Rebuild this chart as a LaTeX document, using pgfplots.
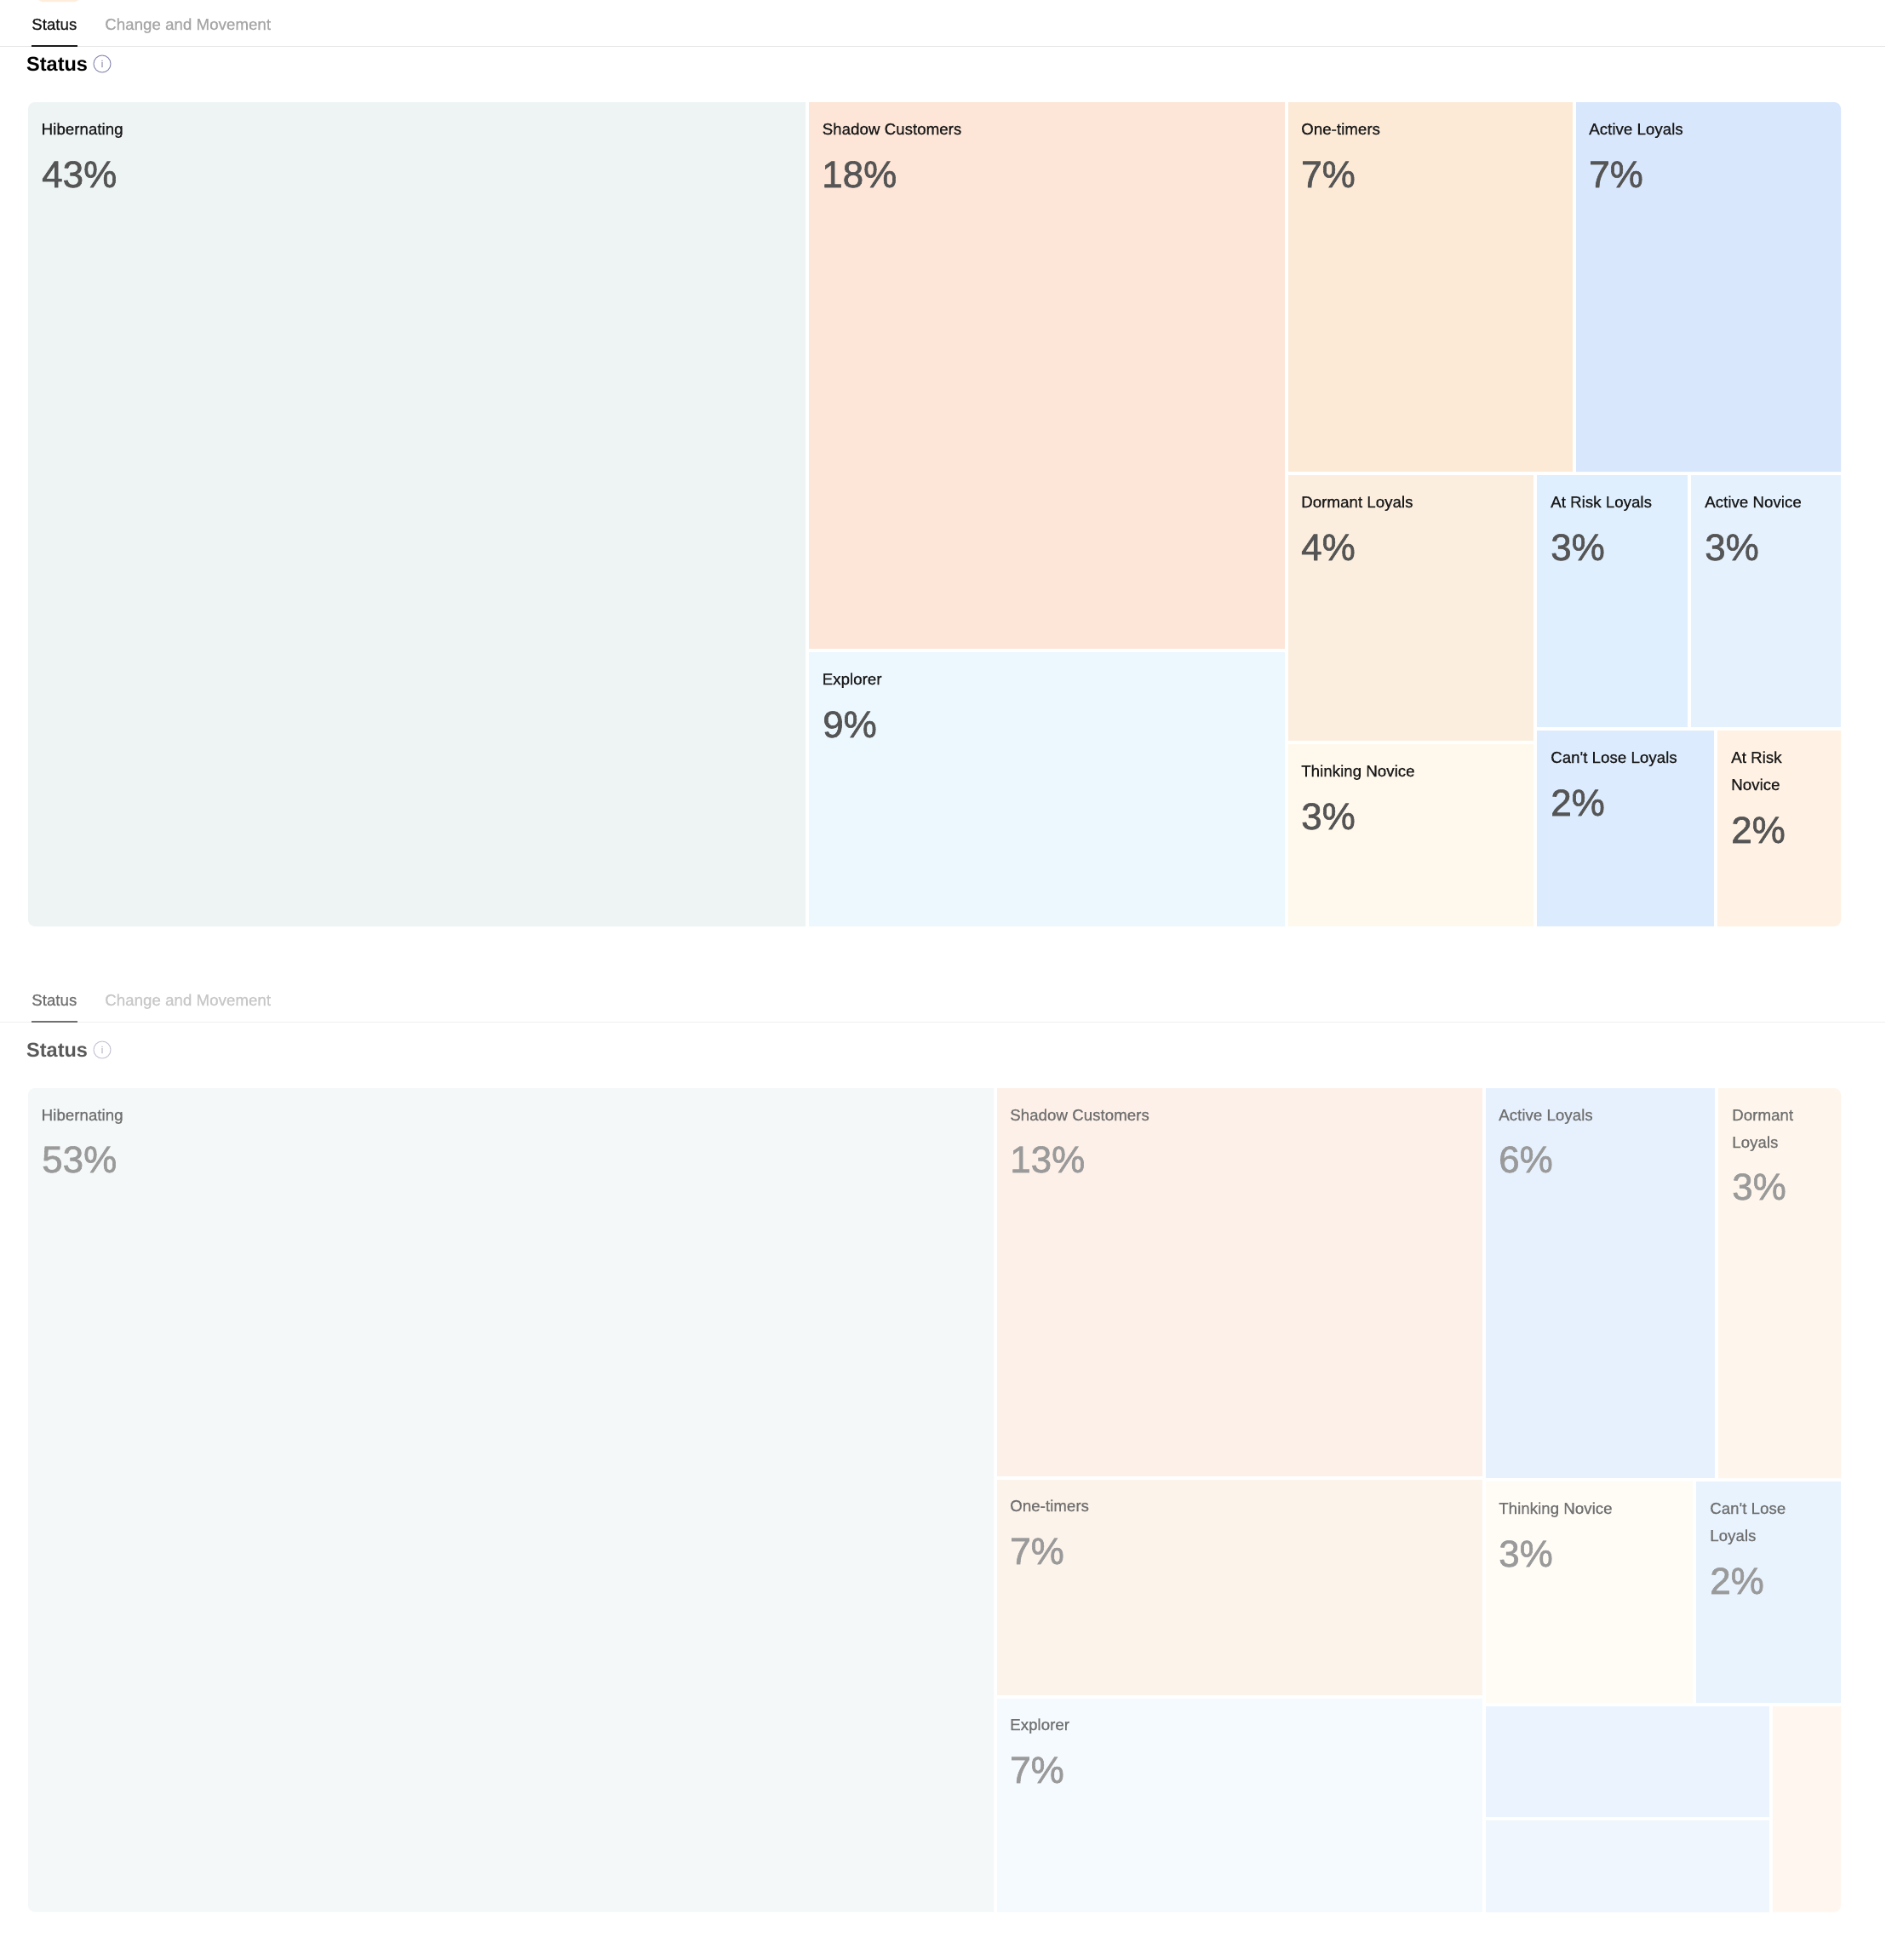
\documentclass[border=0pt]{standalone}
\usepackage{fontspec}
\usepackage{pgfplots}
\pgfplotsset{compat=1.18}
\newfontfamily\lab[FakeBold=0.6]{Liberation Sans}
\newfontfamily\pct[FakeBold=1.3]{Liberation Sans}
\newfontfamily\ttl{Liberation Sans Bold}
\definecolor{aHib}{HTML}{EEF4F4}\definecolor{aSha}{HTML}{FDE5D7}\definecolor{aOne}{HTML}{FCEAD7}
\definecolor{aAct}{HTML}{D9E7FD}\definecolor{aDor}{HTML}{FBEEDE}\definecolor{aRis}{HTML}{DFEFFE}
\definecolor{aNov}{HTML}{E5F2FE}\definecolor{aCan}{HTML}{DCEBFD}\definecolor{aArn}{HTML}{FFF2E4}
\definecolor{aThi}{HTML}{FFF8EC}\definecolor{aExp}{HTML}{ECF7FE}
\definecolor{bHib}{HTML}{F4F8F9}\definecolor{bSha}{HTML}{FDF0E8}\definecolor{bOne}{HTML}{FCF3EA}
\definecolor{bExp}{HTML}{F5FAFE}\definecolor{bAct}{HTML}{E7F1FE}\definecolor{bDor}{HTML}{FEF6EC}
\definecolor{bThi}{HTML}{FFFCF6}\definecolor{bCan}{HTML}{E8F3FE}\definecolor{bMid}{HTML}{EBF4FE}
\definecolor{bLow}{HTML}{EFF6FE}\definecolor{bLas}{HTML}{FFF7EF}
\definecolor{rule}{HTML}{E6E6E6}\definecolor{ruleb}{HTML}{F0F0F0}
\definecolor{lblA}{HTML}{1A1A1A}\definecolor{pctA}{HTML}{555555}
\definecolor{lblB}{HTML}{707070}\definecolor{pctB}{HTML}{9A9A9A}
\newcommand{\cell}[5]{\addplot[fill=#1,draw=none,mark=none] coordinates {(#2,#3)(#4,#3)(#4,#5)(#2,#5)} --cycle;}
\newcommand{\la}[3]{\node[anchor=base west,inner sep=0pt,text=lblA,font=\lab\fontsize{18.75}{19}\selectfont] at (axis cs:#1,#2) {#3};}
\newcommand{\pa}[3]{\node[anchor=base west,inner sep=0pt,text=pctA,font=\pct\fontsize{44}{44}\selectfont] at (axis cs:#1,#2) {#3};}
\newcommand{\lb}[3]{\node[anchor=base west,inner sep=0pt,text=lblB,font=\lab\fontsize{18.75}{19}\selectfont] at (axis cs:#1,#2) {#3};}
\newcommand{\pb}[3]{\node[anchor=base west,inner sep=0pt,text=pctB,font=\pct\fontsize{44}{44}\selectfont] at (axis cs:#1,#2) {#3};}
\begin{document}
\begin{tikzpicture}
\begin{axis}[hide axis,scale only axis,width=2214pt,height=2302pt,xmin=0,xmax=2214,ymin=0,ymax=2302,y dir=reverse,clip=true]
\addplot[fill=white,draw=none,mark=none] coordinates {(0,0)(2214,0)(2214,2302)(0,2302)} --cycle;
% header
\addplot[fill=bLas!70!orange!40,draw=none,mark=none] coordinates {(45,0)(92,0)(88,2)(49,2)} --cycle;
\addplot[draw=rule,line width=1.5pt,mark=none] coordinates {(0,54.5)(2214,54.5)};
\addplot[draw=lblA,line width=2pt,mark=none] coordinates {(37,53.5)(91,53.5)};
\addplot[draw=ruleb,line width=1.5pt,mark=none] coordinates {(0,1200.5)(2214,1200.5)};
\addplot[draw=lblB,line width=2pt,mark=none] coordinates {(37,1199.5)(91,1199.5)};
% first treemap
\addplot[fill=aHib,draw=none,mark=none] coordinates {(33,128)(33.6,125)(35.3,122.3)(38,120.6)(41,120)(946,120)(946,1088)(41,1088)(38,1087.4)(35.3,1085.7)(33.6,1083)(33,1080)} --cycle;
\cell{aSha}{950}{120}{1509}{762}
\cell{aExp}{950}{766}{1509}{1088}
\cell{aOne}{1513}{120}{1847}{554}
\addplot[fill=aAct,draw=none,mark=none] coordinates {(1851,120)(2154,120)(2157,120.6)(2159.7,122.3)(2161.4,125)(2162,128)(2162,554)(1851,554)} --cycle;
\cell{aDor}{1513}{557.5}{1801}{870}
\cell{aThi}{1513}{874}{1801}{1088}
\cell{aRis}{1805}{557.5}{1982}{854}
\cell{aNov}{1986}{557.5}{2162}{854}
\cell{aCan}{1805}{858}{2013}{1088}
\addplot[fill=aArn,draw=none,mark=none] coordinates {(2017,858)(2162,858)(2162,1080)(2161.4,1083)(2159.7,1085.7)(2157,1087.4)(2154,1088)(2017,1088)} --cycle;
% second treemap
\addplot[fill=bHib,draw=none,mark=none] coordinates {(33,1286)(33.6,1283)(35.3,1280.3)(38,1278.6)(41,1278)(1167,1278)(1167,2245.5)(41,2245.5)(38,2244.9)(35.3,2243.2)(33.6,2240.5)(33,2237.5)} --cycle;
\cell{bSha}{1171}{1278}{1741}{1734}
\cell{bOne}{1171}{1737.6}{1741}{1991}
\cell{bExp}{1171}{1995}{1741}{2245.5}
\cell{bAct}{1745}{1278}{2014}{1736}
\addplot[fill=bDor,draw=none,mark=none] coordinates {(2018,1278)(2154,1278)(2157,1278.6)(2159.7,1280.3)(2161.4,1283)(2162,1286)(2162,1736)(2018,1736)} --cycle;
\cell{bThi}{1745}{1739.5}{1988}{2000}
\cell{bCan}{1992}{1739.5}{2162}{2000}
\cell{bMid}{1745}{2004}{2078}{2134}
\cell{bLow}{1745}{2138}{2078}{2245.5}
\addplot[fill=bLas,draw=none,mark=none] coordinates {(2082,2004)(2162,2004)(2162,2237.5)(2161.4,2240.5)(2159.7,2243.2)(2157,2244.9)(2154,2245.5)(2082,2245.5)} --cycle;
% header text
\la{37}{35}{Status}
\node[anchor=base west,inner sep=0pt,text=black!35,font=\lab\fontsize{18.75}{19}\selectfont] at (axis cs:123,35) {Change and Movement};
\node[anchor=base west,inner sep=0pt,text=black,font=\ttl\fontsize{23.5}{24}\selectfont] at (axis cs:31,83) {Status};
\node[circle,draw=black!25!blue!30!gray!70,line width=1pt,minimum size=20pt,inner sep=0pt,text=black!35!blue!30!gray!70,font=\lab\fontsize{11}{11}\selectfont] at (axis cs:120,75) {i};
\lb{37}{1181}{Status}
\node[anchor=base west,inner sep=0pt,text=black!22,font=\lab\fontsize{18.75}{19}\selectfont] at (axis cs:123,1181) {Change and Movement};
\node[anchor=base west,inner sep=0pt,text=black!65,font=\ttl\fontsize{23.5}{24}\selectfont] at (axis cs:31,1241) {Status};
\node[circle,draw=black!12!blue!15!gray!40,line width=1pt,minimum size=20pt,inner sep=0pt,text=black!20!blue!15!gray!50,font=\lab\fontsize{11}{11}\selectfont] at (axis cs:120,1233) {i};
% labels first
\la{48.5}{158}{Hibernating}\pa{49}{220}{43\%}
\la{965.5}{158}{Shadow Customers}\pa{965}{220}{18\%}
\la{1528}{158}{One-timers}\pa{1528}{220}{7\%}
\la{1866}{158}{Active Loyals}\pa{1866}{220}{7\%}
\la{965.5}{804}{Explorer}\pa{966}{866}{9\%}
\la{1528}{596}{Dormant Loyals}\pa{1528}{658}{4\%}
\la{1821}{596}{At Risk Loyals}\pa{1821}{658}{3\%}
\la{2002}{596}{Active Novice}\pa{2002}{658}{3\%}
\la{1528}{912}{Thinking Novice}\pa{1528}{974}{3\%}
\la{1821}{896}{Can't Lose Loyals}\pa{1821}{958}{2\%}
\la{2033}{896}{At Risk}\la{2033}{928}{Novice}\pa{2033}{990}{2\%}
% labels second
\lb{48.5}{1316}{Hibernating}\pb{49}{1377}{53\%}
\lb{1186}{1316}{Shadow Customers}\pb{1186}{1377}{13\%}
\lb{1760}{1316}{Active Loyals}\pb{1760}{1377}{6\%}
\lb{2034}{1316}{Dormant}\lb{2034}{1348}{Loyals}\pb{2034}{1409}{3\%}
\lb{1186}{1775}{One-timers}\pb{1186}{1837}{7\%}
\lb{1186}{2032}{Explorer}\pb{1186}{2094}{7\%}
\lb{1760}{1778}{Thinking Novice}\pb{1760}{1840}{3\%}
\lb{2008}{1778}{Can't Lose}\lb{2008}{1810}{Loyals}\pb{2008}{1872}{2\%}
\end{axis}
\end{tikzpicture}
\end{document}
